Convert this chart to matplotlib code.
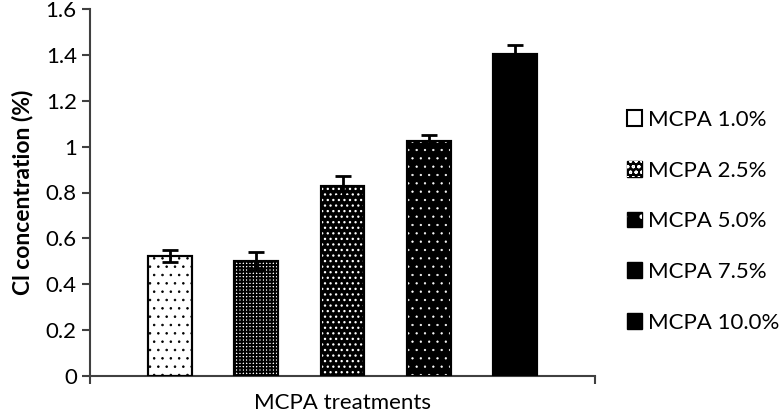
import matplotlib
matplotlib.use("Agg")
import matplotlib.pyplot as plt
from matplotlib.patches import Patch
from matplotlib.legend_handler import HandlerTuple
import numpy as np

plt.rcParams['font.family'] = ['Lato', 'DejaVu Sans']
plt.rcParams['hatch.linewidth'] = 0.8

# data
labels = ['MCPA 1.0%', 'MCPA 2.5%', 'MCPA 5.0%', 'MCPA 7.5%', 'MCPA 10.0%']
values = [0.523, 0.50, 0.828, 1.025, 1.405]
errors = [0.027, 0.04, 0.045, 0.024, 0.036]

# fill style per bar: face, hatch, hatch colour, hatch width
faces = ['white', 'white', 'black', 'black', 'black']
hatches = ['..', '+++++', '...', '..', None]
hatch_cols = ['black', 'black', 'white', 'white', None]
hatch_lws = [0.6, 1.4, 0.9, 0.4, 0]

fig = plt.figure(figsize=(7.8, 4.18), dpi=100)
ax = fig.add_axes([90/780, 1-376/418, 505/780, 367/418])

x = 0.5 + (np.arange(len(values)) - 2) * 0.171
w = 0.087

ax.bar(x, values, w, color=faces, edgecolor='black', linewidth=1.5, zorder=2)
for xi, v, h, hc, hl in zip(x, values, hatches, hatch_cols, hatch_lws):
    if h is None:
        continue
    with plt.rc_context({'hatch.linewidth': hl}):
        b = ax.bar(xi, v, w, color='none', edgecolor=hc, hatch=h, linewidth=0, zorder=3)
    if hasattr(b[0], 'set_hatch_linewidth'):
        b[0].set_hatch_linewidth(hl)
ax.bar(x, values, w, color='none', edgecolor='black', linewidth=1.5, zorder=4)
ax.errorbar(x, values, yerr=errors, fmt='none', ecolor='black',
            elinewidth=2, capsize=6, capthick=2, zorder=5)

ax.set_xlim(0, 1)
ax.set_ylim(0, 1.6)
ax.set_yticks(np.arange(0, 1.61, 0.2))
ax.set_yticklabels(['0', '0.2', '0.4', '0.6', '0.8', '1', '1.2', '1.4', '1.6'])
ax.set_xticks([0, 1])
ax.set_xticklabels(['', ''])
for s in ['top', 'right']:
    ax.spines[s].set_visible(False)
for s in ['left', 'bottom']:
    ax.spines[s].set_color('#404040')
    ax.spines[s].set_linewidth(1.5)
ax.tick_params(axis='both', colors='#404040', width=1.5, length=6, labelsize=16,
               labelcolor='black')
ax.set_ylabel('Cl concentration (%)', fontsize=16.5, fontweight='bold', labelpad=9)
ax.set_xlabel('MCPA treatments', fontsize=16, labelpad=3)

# legend swatches, white dots drawn over black where needed
leg_handles = [
    Patch(facecolor='white', edgecolor='black', linewidth=1.5),
    (Patch(facecolor='black', edgecolor='black'),
     Patch(facecolor='none', edgecolor='white', hatch='ooo', linewidth=0)),
    (Patch(facecolor='black', edgecolor='black'),
     Patch(facecolor='none', edgecolor='white', hatch='.', linewidth=0)),
    Patch(facecolor='black', edgecolor='black'),
    Patch(facecolor='black', edgecolor='black'),
]
fig.legend(leg_handles, labels, loc='upper left', bbox_to_anchor=(618/780, 1-101/418),
           frameon=False, fontsize=16, labelspacing=1.38, handlelength=0.7,
           handleheight=0.7, handletextpad=0.25, borderaxespad=0,
           handler_map={tuple: HandlerTuple(ndivide=1, pad=0)})

fig.savefig('out.png', dpi=100)
